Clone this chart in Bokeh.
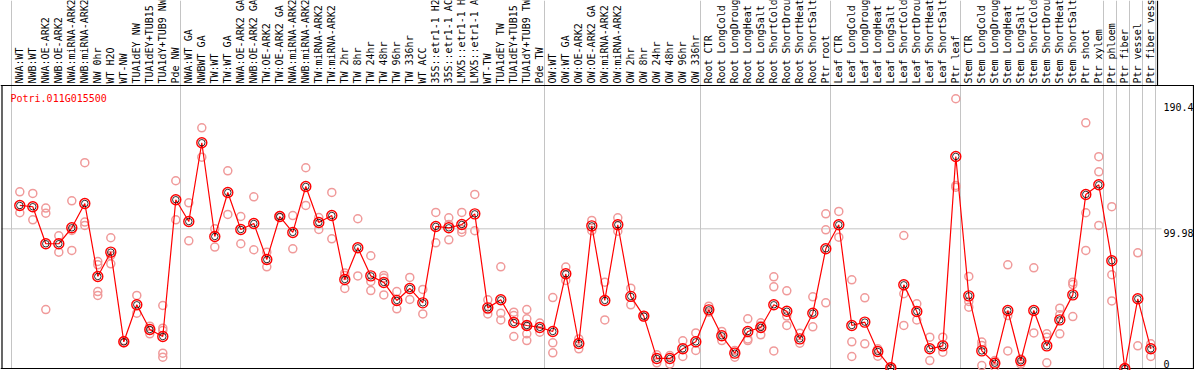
from math import pi
from bokeh.plotting import figure
from bokeh.models import Range1d
from bokeh.core.properties import value
from bokeh.embed import file_html
from bokeh.resources import INLINE

gene = "Potri.011G015500"

categories = [
    "NWA:WT", "NWB:WT", "NWA:OE-ARK2", "NWB:OE-ARK2", "NWA:miRNA-ARK2", "NWB:miRNA-ARK2",
    "NW 0hr", "WT H2O", "WT-NW", "TUA1dEY NW", "TUA1dEY+TUB15 NW", "TUA1dY+TUB9 NW", "Pde NW",
    "NWA:WT GA", "NWBWT GA", "TW:WT", "TW:WT GA", "NWA:OE-ARK2 GA", "NWB:OE-ARK2 GA",
    "TW:OE-ARK2", "TW:OE-ARK2 GA", "NWA:miRNA-ARK2 GA", "NWB:miRNA-ARK2 GA", "TW:miRNA-ARK2",
    "TW:miRNA-ARK2 GA", "TW 2hr", "TW 8hr", "TW 24hr", "TW 48hr", "TW 96hr", "TW 336hr",
    "WT ACC", "35S::etr1-1 H2O", "35S::etr1-1 ACC", "LMX5::etr1-1 H2O", "LMX5::etr1-1 ACC",
    "WT-TW", "TUA1dEY TW", "TUA1dEY+TUB15 TW", "TUA1dY+TUB9 TW", "Pde TW",
    "OW:WT", "OW:WT GA", "OW:OE-ARK2", "OW:OE-ARK2 GA", "OW:miRNA-ARK2", "OW:miRNA-ARK2 GA",
    "OW 2hr", "OW 8hr", "OW 24hr", "OW 48hr", "OW 96hr", "OW 336hr",
    "Root CTR", "Root LongCold", "Root LongDrought", "Root LongHeat", "Root LongSalt",
    "Root ShortCold", "Root ShortDrought", "Root ShortHeat", "Root ShortSalt", "Ptr root",
    "Leaf CTR", "Leaf LongCold", "Leaf LongDrought", "Leaf LongHeat", "Leaf LongSalt",
    "Leaf ShortCold", "Leaf ShortDrought", "Leaf ShortHeat", "Leaf ShortSalt", "Ptr leaf",
    "Stem CTR", "Stem LongCold", "Stem LongDrought", "Stem LongHeat", "Stem LongSalt",
    "Stem ShortCold", "Stem ShortDrought", "Stem ShortHeat", "Stem ShortSalt", "Ptr shoot",
    "Ptr xylem", "Ptr phloem", "Ptr fiber", "Ptr vessel", "Ptr fiber vessel",
]

means = [
    116.7, 115.8, 89.3, 89.3, 100.7, 118.1, 65.9, 83.3, 19.1, 45.6, 27.9, 22.9, 120.8,
    105.2, 161.6, 94.5, 126.0, 99.5, 103.8, 78.0, 108.8, 97.4, 130.3, 104.5, 109.5, 63.7,
    86.4, 66.3, 61.6, 48.7, 57.3, 47.0, 101.7, 100.7, 103.1, 110.7, 43.4, 49.2, 32.9, 30.8, 29.4,
    26.5, 67.8, 17.9, 102.1, 48.7, 102.9, 51.6, 37.5, 7.2, 7.2, 14.1, 19.1,
    42.0, 23.4, 11.0, 26.5, 29.4, 45.6, 41.0, 21.2, 39.6, 85.7,
    102.9, 30.8, 33.2, 12.2, 0.5, 59.9, 40.8, 14.1, 16.2, 151.8,
    52.0, 12.6, 3.8, 41.5, 5.5, 41.5, 16.2, 34.8, 52.7, 124.6, 131.5,
    77.1, 0.0, 49.9, 14.1,
]

replicates = [
    [126.5, 111.5], [125.3, 106.4], [114.8, 111.2, 42.2], [95.0, 83.3], [120.0, 98.8, 84.5],
    [147.3, 104.8, 102.4], [76.6, 74.2, 55.1, 52.3], [93.6, 80.9, 74.9], [20.0, 18.4],
    [52.3, 39.6], [30.3, 27.2, 24.8], [45.1, 28.9, 27.2, 11.0, 8.1], [134.4, 106.4],
    [118.6, 91.4], [172.3, 151.3], [100.0, 86.9], [141.5, 110.3], [108.8, 89.3],
    [122.9, 85.0], [83.3, 72.8], [109.5, 108.1], [109.5, 85.7], [143.7, 116.7],
    [108.1, 99.5], [126.0, 92.8], [68.3, 66.6, 57.3], [107.2, 66.3], [80.7, 62.3, 55.8],
    [66.6, 64.7, 52.7], [55.1, 42.7], [65.2, 49.4], [56.6, 39.1], [111.7, 90.0],
    [107.9, 103.1, 92.1], [111.7, 99.5, 97.6], [124.6, 98.6], [49.2, 42.2, 39.1],
    [72.8, 39.6, 34.8], [40.3, 37.9, 22.9], [42.2, 35.6, 30.8, 24.8, 20.0], [32.5, 26.0],
    [50.8, 18.4, 11.2], [72.6, 63.0], [21.2, 14.1], [106.0, 98.6], [61.8, 34.8],
    [107.9, 98.3], [57.5, 45.6], [37.9, 37.0], [9.8, 4.1], [9.3, 3.3], [19.8, 8.6],
    [25.5, 12.9],
    [44.6, 40.3], [26.5, 20.0], [12.9, 8.1], [35.6, 21.2, 20.0], [32.7, 30.8, 24.1],
    [65.6, 58.5, 12.6], [55.6, 37.5, 30.8], [25.3, 18.1], [51.3, 29.8], [110.7, 99.3, 47.0],
    [112.4, 94.0], [63.5, 19.1, 8.6], [50.6, 17.7], [14.1, 8.8], [1.0, 0.0],
    [95.2, 53.5, 30.8], [46.3, 34.8], [22.4, 5.7], [22.4, 11.7], [193.1, 131.0, 129.8],
    [65.9, 48.0, 43.9], [18.9, 16.5, 2.1], [5.7, 1.0], [74.2, 37.9, 12.6], [6.9, 3.3],
    [72.1, 25.5], [24.8, 22.4, 4.1], [43.2, 38.4, 24.8], [61.8, 60.1, 37.2],
    [175.9, 111.5, 84.5], [151.6, 140.8, 102.4],
    [115.8, 67.1, 48.4], [0.0, 0.0], [82.8, 16.2], [17.7, 8.6],
]

# first category (1-based) of each column group
group_starts = [1, 14, 42, 54, 64, 74, 85, 86, 87, 88]

tick_values = [190.4, 99.98, 0]
tick_labels = ["190.4", "99.98", "0"]

# ---------------- layout (reference pixel geometry) ----------------
REF_W, REF_H = 1194, 370
W, H = 1194, 370          # figure size
X0, DX = 19.3, 13.0       # ref x of first category, spacing
Y0, KY = 368.0, 1.397     # ref y of value 0, pixels per unit
PLOT_TOP = 85.0           # ref y of the top of the data frame
RIGHT_EDGE = 1193.0

def px_to_x(px):
    return 1 + (px - X0) / DX

def py_to_y(py):
    return (Y0 - py) / KY

x_range = Range1d(px_to_x(0), px_to_x(REF_W))
y_range = Range1d(py_to_y(REF_H), py_to_y(0))

p = figure(width=W, height=H, x_range=x_range, y_range=y_range,
           output_backend="svg", toolbar_location=None,
           x_axis_location=None, y_axis_location=None,
           min_border=0, outline_line_color=None,
           background_fill_color="white", border_fill_color="white")
p.grid.visible = False

n = len(categories)
xs = list(range(1, n + 1))

top_v = py_to_y(0)
frame_top = py_to_y(PLOT_TOP)
gray = "#c4c4c4"

# group separator lines (full height)
sep_x = [g - 8.3 / DX for g in group_starts] + [n + 1 - 8.3 / DX]
p.segment(x0=sep_x, y0=[0] * len(sep_x), x1=sep_x, y1=[top_v] * len(sep_x),
          line_color=gray, line_width=1)

# horizontal grid at middle tick
p.segment(x0=[px_to_x(1)], y0=[tick_values[1]], x1=[px_to_x(1161)], y1=[tick_values[1]],
          line_color=gray, line_width=1)

# frame lines
p.segment(x0=[px_to_x(0), px_to_x(0), px_to_x(1.5), px_to_x(RIGHT_EDGE), px_to_x(1157)],
          y0=[frame_top, 0, 0, 0, frame_top],
          x1=[px_to_x(REF_W), px_to_x(REF_W), px_to_x(1.5), px_to_x(RIGHT_EDGE), px_to_x(1157)],
          y1=[frame_top, 0, frame_top, frame_top, top_v],
          line_color="black", line_width=1.2)

# category labels (rotated)
p.text(x=xs, y=[py_to_y(83)] * n, text=categories, angle=pi / 2,
       text_font=value("DejaVu Sans Mono"), text_font_size="10px",
       text_align="left", text_baseline="middle", text_color="black")

# replicates
rx, ry = [], []
for i, reps in enumerate(replicates):
    for r in reps:
        rx.append(i + 1)
        ry.append(r)
p.scatter(x=rx, y=ry, marker="circle", size=8, fill_color=None,
          line_color="#f09a9a", line_width=1.5)

# mean line + markers
p.line(x=xs, y=means, line_color="red", line_width=1.2)
p.scatter(x=xs, y=means, marker="circle", size=10, fill_color=None,
          line_color="red", line_width=1.4)
p.scatter(x=xs, y=means, marker="circle", size=6.5, fill_color=None,
          line_color="black", line_width=0.8)

# gene title
p.text(x=[px_to_x(10)], y=[py_to_y(92)], text=[gene],
       text_font=value("DejaVu Sans Mono"), text_font_size="10px",
       text_align="left", text_baseline="top", text_color="red")

# y tick labels on the right
p.text(x=[px_to_x(1163)] * 2, y=tick_values[:2], text=tick_labels[:2],
       text_font=value("DejaVu Sans Mono"), text_font_size="10px",
       text_align="left", text_baseline="top", text_color="black")
p.text(x=[px_to_x(1163)], y=[py_to_y(367)], text=[tick_labels[2]],
       text_font=value("DejaVu Sans Mono"), text_font_size="10px",
       text_align="left", text_baseline="bottom", text_color="black")

open("out.html", "w").write(file_html(p, INLINE))
